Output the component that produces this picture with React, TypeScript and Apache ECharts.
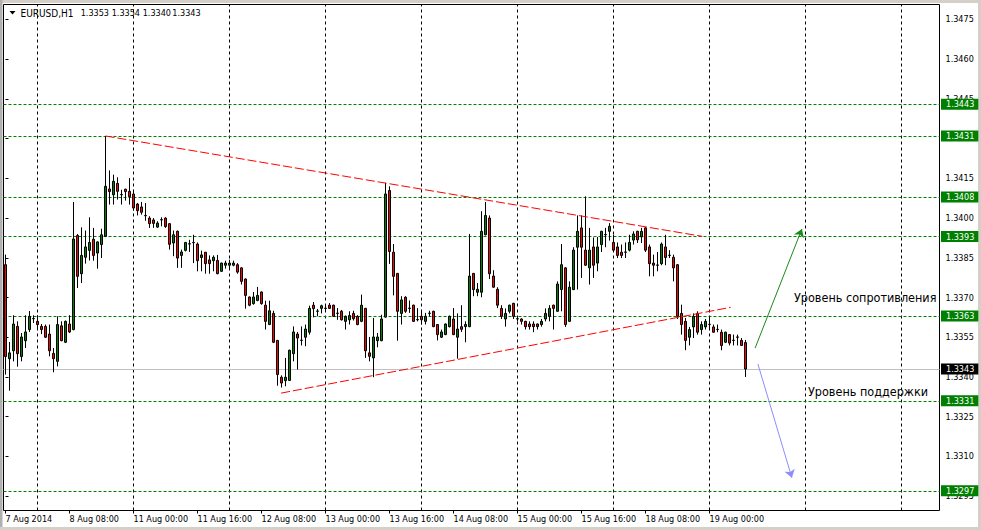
import React, { useEffect, useRef } from "react";
import * as echarts from "echarts";

const SYMBOL = "EURUSD,H1";

// hourly bars [open, high, low, close], first bar = 7 Aug 2014 16:00
const ohlc: number[][] = [
  [1.33824, 1.33862, 1.33409, 1.33477], [1.33469, 1.33532, 1.33348, 1.33491], [1.33499, 1.33633, 1.33459, 1.336], [1.33591, 1.3361, 1.33439, 1.33488],
  [1.33477, 1.33566, 1.33459, 1.33551], [1.33537, 1.33633, 1.33509, 1.3357], [1.33579, 1.33649, 1.3357, 1.33629], [1.3362, 1.33633, 1.33604, 1.33621],
  [1.3361, 1.33633, 1.33579, 1.33598], [1.33591, 1.336, 1.33562, 1.33579], [1.33591, 1.33598, 1.33547, 1.3355], [1.33562, 1.33598, 1.33478, 1.33499],
  [1.33489, 1.33509, 1.33418, 1.33469], [1.33459, 1.33629, 1.3344, 1.33598], [1.33593, 1.3361, 1.33535, 1.33537], [1.33531, 1.33613, 1.33528, 1.3361],
  [1.336, 1.33633, 1.33566, 1.3357], [1.33579, 1.34061, 1.33576, 1.33921], [1.33934, 1.3394, 1.33736, 1.3378], [1.3379, 1.33965, 1.33755, 1.33859],
  [1.33852, 1.33953, 1.33828, 1.33891], [1.33878, 1.34003, 1.3384, 1.33908], [1.3392, 1.33963, 1.33839, 1.33859], [1.33868, 1.33912, 1.33809, 1.3391],
  [1.339, 1.3396, 1.33849, 1.33937], [1.33931, 1.3431, 1.33928, 1.3412], [1.3411, 1.3418, 1.34051, 1.341], [1.34088, 1.34164, 1.34051, 1.34139],
  [1.34131, 1.34154, 1.3407, 1.34101], [1.34088, 1.34107, 1.34051, 1.34089], [1.34109, 1.34111, 1.34066, 1.341], [1.34101, 1.34151, 1.34051, 1.34081],
  [1.34091, 1.34107, 1.34028, 1.34038], [1.34053, 1.34057, 1.3401, 1.34028], [1.34042, 1.34061, 1.34013, 1.34022], [1.3401, 1.34057, 1.3399, 1.34009],
  [1.34, 1.34007, 1.33963, 1.33979], [1.33993, 1.34, 1.33963, 1.3398], [1.33966, 1.33988, 1.33963, 1.33981], [1.33993, 1.34003, 1.33969, 1.33994],
  [1.34, 1.34003, 1.33963, 1.33968], [1.33979, 1.33981, 1.33881, 1.33901], [1.33906, 1.33953, 1.33856, 1.33937], [1.3395, 1.33953, 1.33812, 1.33849],
  [1.33859, 1.33881, 1.33812, 1.33872], [1.33878, 1.3391, 1.33874, 1.33908], [1.33902, 1.33918, 1.33872, 1.33903], [1.33908, 1.33937, 1.3383, 1.33907],
  [1.33902, 1.33908, 1.33799, 1.33839], [1.33851, 1.33877, 1.33799, 1.33861], [1.33871, 1.33872, 1.3379, 1.33828], [1.33842, 1.33859, 1.3379, 1.33828],
  [1.33839, 1.33859, 1.33799, 1.33852], [1.3384, 1.33861, 1.33788, 1.3379], [1.33799, 1.33832, 1.33797, 1.3383], [1.33822, 1.33839, 1.33809, 1.3383],
  [1.33822, 1.33843, 1.33808, 1.3383], [1.33822, 1.33839, 1.33818, 1.3383], [1.33824, 1.3383, 1.3379, 1.33796], [1.33812, 1.33814, 1.33749, 1.33761],
  [1.3377, 1.33772, 1.33658, 1.33708], [1.33702, 1.33704, 1.33667, 1.33671], [1.33677, 1.33721, 1.33673, 1.33702], [1.33689, 1.3374, 1.33686, 1.33708],
  [1.33721, 1.33723, 1.33673, 1.33677], [1.33671, 1.33688, 1.33579, 1.3361], [1.33598, 1.33688, 1.33596, 1.3365], [1.3364, 1.3365, 1.33528, 1.33531],
  [1.33538, 1.3354, 1.33367, 1.33409], [1.33399, 1.33406, 1.3336, 1.33377], [1.33386, 1.33472, 1.33365, 1.33399], [1.33387, 1.33503, 1.33385, 1.33501],
  [1.33488, 1.33591, 1.33459, 1.3357], [1.33562, 1.3357, 1.33428, 1.33547], [1.33538, 1.33591, 1.33519, 1.33539], [1.3355, 1.33598, 1.33516, 1.33581],
  [1.33569, 1.33669, 1.3356, 1.33659], [1.33671, 1.33683, 1.33625, 1.33658], [1.33648, 1.33657, 1.33629, 1.33649], [1.33659, 1.33673, 1.3364, 1.33669],
  [1.33659, 1.33673, 1.33648, 1.3366], [1.33671, 1.33679, 1.33657, 1.33659], [1.33671, 1.33673, 1.33627, 1.33629], [1.3364, 1.3366, 1.33616, 1.33641],
  [1.33648, 1.33653, 1.33613, 1.33616], [1.3361, 1.33632, 1.33579, 1.33629], [1.33616, 1.33648, 1.33598, 1.33632], [1.3364, 1.3365, 1.33613, 1.3362],
  [1.33629, 1.33633, 1.33595, 1.33598], [1.3361, 1.33711, 1.33607, 1.33671], [1.33659, 1.33661, 1.33472, 1.33499], [1.33491, 1.33551, 1.33459, 1.33478],
  [1.33472, 1.33623, 1.33399, 1.33551], [1.33537, 1.33566, 1.33512, 1.33551], [1.33537, 1.33635, 1.33535, 1.33619], [1.33626, 1.34133, 1.33624, 1.34091],
  [1.34104, 1.3412, 1.33827, 1.33874], [1.33871, 1.33902, 1.33708, 1.3378], [1.33791, 1.33793, 1.33537, 1.33648], [1.3364, 1.33705, 1.33598, 1.33691],
  [1.33701, 1.33705, 1.33642, 1.33648], [1.33659, 1.33689, 1.33642, 1.3366], [1.33671, 1.33673, 1.33608, 1.3361], [1.33616, 1.3366, 1.3361, 1.33617],
  [1.33629, 1.33648, 1.33598, 1.33616], [1.3361, 1.33642, 1.33598, 1.33629], [1.3364, 1.3365, 1.33629, 1.33641], [1.33648, 1.3365, 1.33588, 1.3359],
  [1.33598, 1.336, 1.33538, 1.3356], [1.3355, 1.33579, 1.33547, 1.3357], [1.3356, 1.33602, 1.33558, 1.336], [1.3359, 1.33632, 1.33587, 1.33629],
  [1.33619, 1.3366, 1.33558, 1.3356], [1.3355, 1.3364, 1.33469, 1.33581], [1.3359, 1.33671, 1.3357, 1.3358], [1.3359, 1.3361, 1.33531, 1.33598],
  [1.3359, 1.3394, 1.33588, 1.33781], [1.33791, 1.33793, 1.33705, 1.3373], [1.3372, 1.33755, 1.33705, 1.33731], [1.3372, 1.34026, 1.33701, 1.3395],
  [1.33937, 1.34061, 1.33935, 1.3401], [1.34, 1.3401, 1.3377, 1.3379], [1.33781, 1.33803, 1.33737, 1.33739], [1.33731, 1.33739, 1.3366, 1.33671],
  [1.33659, 1.33671, 1.33619, 1.33629], [1.33619, 1.33659, 1.3359, 1.3364], [1.33648, 1.33673, 1.3364, 1.33671], [1.33678, 1.3368, 1.33619, 1.33629],
  [1.33619, 1.33629, 1.3361, 1.3362], [1.33619, 1.33621, 1.33598, 1.3361], [1.3361, 1.33612, 1.33579, 1.3359], [1.336, 1.3361, 1.33579, 1.3359],
  [1.336, 1.3361, 1.33569, 1.3359], [1.336, 1.33602, 1.33579, 1.3359], [1.33598, 1.33619, 1.3359, 1.3361], [1.33619, 1.33659, 1.3361, 1.3364],
  [1.33629, 1.33671, 1.3361, 1.33659], [1.33671, 1.33673, 1.33579, 1.33659], [1.33648, 1.33761, 1.33646, 1.33751], [1.3373, 1.33902, 1.33648, 1.33824],
  [1.33812, 1.33814, 1.33589, 1.33598], [1.3361, 1.33761, 1.33608, 1.33739], [1.3373, 1.3389, 1.33728, 1.33879], [1.3389, 1.3401, 1.3373, 1.3395],
  [1.33963, 1.3401, 1.33774, 1.3389], [1.33879, 1.34082, 1.3382, 1.33822], [1.33812, 1.33963, 1.33749, 1.33879], [1.33891, 1.33927, 1.33774, 1.33822],
  [1.3383, 1.33929, 1.33799, 1.33891], [1.339, 1.33952, 1.33872, 1.3395], [1.33937, 1.33963, 1.3389, 1.33938], [1.3395, 1.33981, 1.33915, 1.33969],
  [1.33908, 1.33937, 1.33874, 1.33879], [1.33891, 1.33908, 1.33849, 1.33859], [1.33871, 1.339, 1.33849, 1.33859], [1.33871, 1.33908, 1.33849, 1.33872],
  [1.33879, 1.33937, 1.33874, 1.33908], [1.33917, 1.3395, 1.339, 1.3394], [1.3395, 1.33952, 1.33906, 1.33918], [1.33929, 1.33963, 1.33906, 1.3395],
  [1.33963, 1.33965, 1.33872, 1.33879], [1.33891, 1.339, 1.3378, 1.33828], [1.3383, 1.33862, 1.3378, 1.33822], [1.33822, 1.33872, 1.33799, 1.33823],
  [1.33828, 1.33908, 1.33822, 1.33902], [1.33891, 1.33937, 1.33822, 1.33851], [1.33859, 1.33879, 1.33849, 1.3386], [1.33852, 1.33862, 1.33761, 1.33812],
  [1.33824, 1.33826, 1.33619, 1.33629], [1.3364, 1.33673, 1.3356, 1.33598], [1.3361, 1.33623, 1.33501, 1.33538], [1.3355, 1.33589, 1.33519, 1.33579],
  [1.33589, 1.3364, 1.33547, 1.33629], [1.3364, 1.33648, 1.3356, 1.33569], [1.33579, 1.3361, 1.3356, 1.33598], [1.33589, 1.33619, 1.33579, 1.3361],
  [1.33598, 1.33629, 1.33579, 1.33599], [1.33589, 1.33598, 1.33567, 1.33569], [1.33579, 1.33598, 1.33569, 1.3358], [1.33569, 1.33579, 1.33501, 1.33519],
  [1.33531, 1.33571, 1.33528, 1.33569], [1.3356, 1.33562, 1.33519, 1.33528], [1.33538, 1.3356, 1.33519, 1.33539], [1.3355, 1.3356, 1.33519, 1.33551],
  [1.33538, 1.33547, 1.33517, 1.33519], [1.3353, 1.3354, 1.334, 1.3343],
];

const xTickLabels = [
  "7 Aug 2014", "8 Aug 08:00", "11 Aug 00:00", "11 Aug 16:00", "12 Aug 08:00", "13 Aug 00:00",
  "13 Aug 16:00", "14 Aug 08:00", "15 Aug 00:00", "15 Aug 16:00", "18 Aug 08:00", "19 Aug 00:00",
];
const LABEL_STEP = 16; // bars between time labels
const dayStartBars = [8, 32, 56, 80, 104, 128, 152, 176, 200, 224];

const yTickValues = [1.3295, 1.331, 1.3325, 1.334, 1.3355, 1.337, 1.3385, 1.34, 1.3415, 1.343, 1.3445, 1.346, 1.3475];
// 1.3430 is fully covered by the 1.3431 level box in the reference
const yLabelValues = [1.3295, 1.331, 1.3325, 1.334, 1.3355, 1.337, 1.3385, 1.34, 1.3415, 1.3445, 1.346, 1.3475];
const levelPrices = [1.3443, 1.3431, 1.3408, 1.3393, 1.3363, 1.3331, 1.3297];
const currentPrice = 1.3343;

// [bar index, price]
const upperTrend = [[25, 1.3431], [174.2, 1.33931]];
const lowerTrend = [[68.9, 1.33339], [181.3, 1.33663]];
const resistanceArrow = [[187.4, 1.33509], [199.1, 1.33959]];
const supportArrow = [[188.1, 1.33449], [196.6, 1.33019]];

const resistanceText = "Уровень сопротивления";
const supportText = "Уровень поддержки";

const Y_MIN = 1.328957;
const Y_MAX = 1.348066;
const SLOTS = 234;

const FONT = '"DejaVu Sans Condensed", "Liberation Sans", sans-serif';

export default function App() {
  const ref = useRef<HTMLDivElement>(null);
  useEffect(() => {
    document.body.style.margin = "0";
    const chart = echarts.init(ref.current!, null, { renderer: "svg", width: 981, height: 530 });
    const cats = Array.from({ length: SLOTS }, (_, i) => String(i));
    const isLabelIdx = (i: number) => i % LABEL_STEP === 0 && i / LABEL_STEP < xTickLabels.length;
    const last = ohlc[ohlc.length - 1];
    const headerVals = [last[0], last[1], last[2], last[3]].map((v) => v.toFixed(4));

    const boxLabel = (text: string, bg: string) => ({
      show: true, position: "end", formatter: text, color: "#ffffff",
      backgroundColor: bg, padding: [1, 4, 1, 5], fontSize: 9, lineHeight: 9,
      fontFamily: FONT, distance: 1.5,
    });
    const levelLines: any[] = levelPrices.map((v) => ({
      yAxis: v,
      lineStyle: { color: "#008000", type: [3, 2], width: 1 },
      label: boxLabel(v.toFixed(4), "#008000"),
    }));
    levelLines.push({
      yAxis: currentPrice,
      lineStyle: { color: "#c0c0c0", type: "solid", width: 1 },
      label: boxLabel(currentPrice.toFixed(4), "#000000"),
    });

    const headerText = (text: string, x: number, size: number) => ({
      type: "text", x, y: 13, silent: true,
      style: { text, fill: "#000", fontSize: size, fontFamily: FONT, verticalAlign: "middle" },
    });

    const option: any = {
      animation: false,
      backgroundColor: "#ffffff",
      textStyle: { fontFamily: FONT },
      grid: {
        left: 3.5, top: 4.5, width: 936, height: 506, show: true,
        borderColor: "#000000", borderWidth: 1, backgroundColor: "#ffffff",
      },
      xAxis: [
        {
          type: "category", data: cats, boundaryGap: true,
          axisLine: { show: false },
          axisTick: { show: true, alignWithLabel: true, interval: isLabelIdx, length: 3, lineStyle: { color: "#000" } },
          axisLabel: {
            show: true, interval: isLabelIdx,
            formatter: (_v: string, i: number) => xTickLabels[i / LABEL_STEP] ?? "",
            align: "left", color: "#000", fontSize: 9, fontFamily: FONT, margin: 4,
          },
          splitLine: { show: false },
        },
        { type: "value", min: -0.5, max: SLOTS - 0.5, show: false },
      ],
      yAxis: {
        type: "value", position: "right", min: Y_MIN, max: Y_MAX,
        splitLine: { show: false }, axisLine: { show: false },
        axisTick: { show: true, customValues: yTickValues, length: 3, lineStyle: { color: "#000" } },
        axisLabel: {
          customValues: yLabelValues, formatter: (v: number) => v.toFixed(4),
          color: "#000", fontSize: 9, fontFamily: FONT, margin: 6,
        },
      },
      series: [
        {
          type: "line", xAxisIndex: 1, yAxisIndex: 0, data: [], silent: true,
          markLine: {
            silent: true, symbol: "none", z: 1, animation: false, precision: 6,
            label: { show: false },
            lineStyle: { color: "#000", type: [3, 3], width: 1 },
            data: dayStartBars.map((b) => ({ xAxis: b })),
          },
        },
        {
          type: "line", xAxisIndex: 1, yAxisIndex: 0, data: [], silent: true,
          markLine: { silent: true, symbol: "none", z: 1, animation: false, precision: 6, data: levelLines },
        },
        {
          type: "candlestick", xAxisIndex: 0, yAxisIndex: 0, z: 3, barWidth: 2.5,
          data: ohlc.map(([o, h, l, c]) => [o, c, l, h]),
          itemStyle: {
            color: "#008000", color0: "#ff0000", borderColor: "#000", borderColor0: "#000",
            borderColorDoji: "#000", borderWidth: 1,
          },
        },
        {
          type: "line", xAxisIndex: 1, yAxisIndex: 0, z: 4, silent: true, symbol: "none",
          data: upperTrend, lineStyle: { color: "#ff0000", width: 1, type: [9, 3] },
        },
        {
          type: "line", xAxisIndex: 1, yAxisIndex: 0, z: 4, silent: true, symbol: "none",
          data: lowerTrend, lineStyle: { color: "#ff0000", width: 1, type: [9, 3] },
        },
        {
          type: "line", xAxisIndex: 1, yAxisIndex: 0, data: [], silent: true,
          markLine: {
            silent: true, symbol: ["none", "arrow"], symbolSize: 8, z: 5, animation: false, precision: 6,
            label: { show: false },
            data: [
              [
                { coord: resistanceArrow[0], lineStyle: { color: "#1a8a1a", width: 1, type: "solid" } },
                { coord: resistanceArrow[1] },
              ],
              [
                { coord: supportArrow[0], lineStyle: { color: "#8c8cff", width: 1, type: "solid" } },
                { coord: supportArrow[1] },
              ],
            ],
          },
        },
      ],
      graphic: [
        { type: "rect", shape: { x: 0, y: 0, width: 981, height: 3 }, style: { fill: "#d4d0c8" }, silent: true },
        { type: "rect", shape: { x: 0, y: 0, width: 2.5, height: 530 }, style: { fill: "#b0b0b0" }, silent: true },
        { type: "rect", shape: { x: 978, y: 0, width: 3, height: 530 }, style: { fill: "#d4d0c8" }, silent: true },
        { type: "rect", shape: { x: 0, y: 527, width: 981, height: 3 }, style: { fill: "#d4d0c8" }, silent: true },
        { type: "polygon", shape: { points: [[9.5, 11], [15.5, 11], [12.5, 14.5]] }, style: { fill: "#000" }, silent: true },
        headerText(SYMBOL, 20.5, 10),
        headerText(headerVals[0], 80.7, 9),
        headerText(headerVals[1], 111.7, 9),
        headerText(headerVals[2], 142.7, 9),
        headerText(headerVals[3], 172.3, 9),
        {
          type: "text", x: 794, y: 297, silent: true,
          style: { text: resistanceText, fill: "#000", fontSize: 12.5, fontFamily: FONT, verticalAlign: "middle" },
        },
        {
          type: "text", x: 808, y: 391, silent: true,
          style: { text: supportText, fill: "#000", fontSize: 12.5, fontFamily: FONT, verticalAlign: "middle" },
        },
      ],
    };
    chart.setOption(option);
    return () => chart.dispose();
  }, []);
  return <div ref={ref} style={{ width: 981, height: 530 }} />;
}
